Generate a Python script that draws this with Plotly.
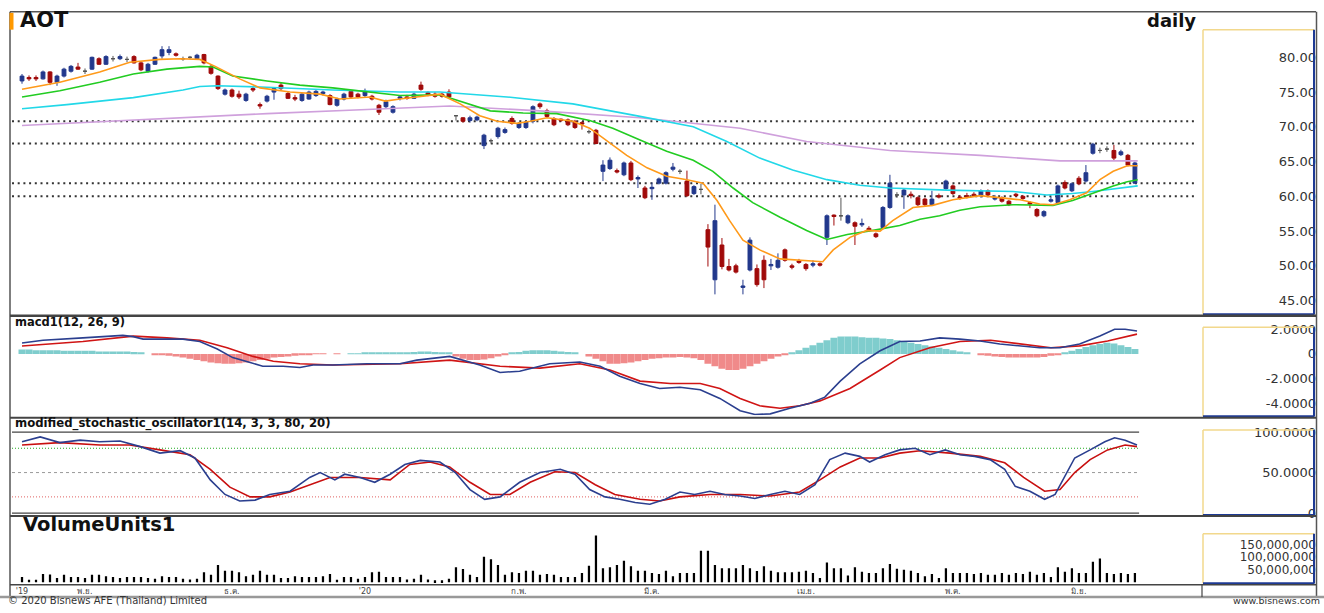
import plotly.graph_objects as go

# ------------------------------------------------------------------ data
month_idx = [0, 9, 30, 49, 71, 90, 112, 133, 151]
month_txt = ["'19", "พ.ย.", "ธ.ค.", "'20", "ก.พ.", "มี.ค.", "เม.ย.", "พ.ค.", "มิ.ย."]

# u = blue candle, d = red candle, n = grey doji
candle_kind = ("u d d u d u u u d n "
               "u d u n u n d d u u "
               "u u d n n u d d d u "
               "d d u d d u u d d d "
               "u u u u d u u d d u "
               "d d u u u d u d d d "
               "d d n d u u u n u u "
               "d u u u d d d d d d "
               "d n d u u d u d u d "
               "u u u u n d u n d u "
               "d d d u u d d u u d "
               "d d d u d u d n u d "
               "u d d u u n u d d d "
               "u d u d d d d u d u "
               "d d d d d d u u u d "
               "u d u u n n d u d u").split()

c_open = [76.6, 77.1, 77.1, 76.9, 77.9, 76.4, 77.3, 78.0, 78.6, 78.0,
          78.3, 79.8, 79.0, 79.8, 79.8, 79.7, 80.1, 79.2, 78.0, 79.0,
          80.2, 80.7, 80.5, 79.8, 80.0, 79.8, 80.4, 78.7, 77.3, 74.7,
          75.3, 74.7, 73.8, 75.5, 73.2, 73.7, 75.0, 76.0, 74.8, 74.2,
          73.8, 74.0, 74.5, 74.8, 74.5, 73.1, 74.0, 75.1, 74.7, 74.5,
          74.4, 73.1, 72.9, 72.1, 74.1, 74.3, 74.1, 76.0, 74.9, 74.7,
          74.7, 75.0, 71.6, 71.3, 70.9, 71.0, 67.3, 68.0, 68.6, 69.2,
          71.2, 69.9, 69.9, 70.8, 73.3, 72.3, 71.2, 71.1, 71.0, 70.8,
          70.6, 69.3, 69.5, 63.6, 64.0, 63.7, 63.1, 64.8, 62.5, 61.2,
          61.1, 61.9, 61.9, 63.9, 63.6, 62.2, 60.4, 61.0, 55.2, 48.0,
          53.0, 49.9, 50.0, 46.9, 49.4, 49.6, 50.8, 50.0, 49.8, 52.3,
          50.0, 50.7, 50.2, 50.1, 50.3, 54.1, 57.3, 57.2, 56.2, 56.2,
          55.9, 55.4, 54.6, 55.5, 58.4, 60.2, 60.2, 60.3, 59.8, 59.6,
          58.8, 60.1, 61.1, 61.5, 59.9, 60.1, 60.3, 60.1, 60.8, 59.6,
          59.8, 59.3, 60.3, 60.0, 59.1, 58.1, 57.2, 59.3, 59.1, 62.0,
          60.8, 62.6, 62.2, 66.2, 66.6, 66.8, 66.6, 66.0, 65.9, 61.9]
c_high = [77.6, 77.4, 77.4, 78.1, 78.0, 77.5, 78.5, 78.9, 79.2, 78.4,
          80.1, 80.0, 80.3, 80.2, 80.4, 80.1, 80.3, 79.4, 79.2, 80.1,
          81.6, 81.6, 80.7, 80.1, 80.2, 80.5, 80.5, 78.9, 77.4, 75.5,
          75.5, 75.2, 74.9, 75.8, 73.5, 74.6, 75.7, 76.4, 75.0, 74.6,
          74.9, 75.2, 75.3, 75.2, 74.7, 74.2, 74.9, 75.3, 74.9, 75.5,
          74.6, 73.3, 73.9, 73.1, 74.5, 74.6, 74.9, 76.5, 75.1, 75.0,
          74.9, 75.4, 71.7, 71.4, 71.6, 71.6, 69.0, 68.3, 70.0, 69.9,
          71.5, 70.7, 70.9, 73.1, 73.5, 72.6, 71.4, 71.2, 71.2, 71.0,
          70.8, 69.6, 69.7, 65.2, 65.6, 64.0, 65.0, 65.1, 63.0, 61.5,
          62.0, 62.7, 63.6, 64.8, 63.9, 63.7, 61.6, 61.8, 56.0, 58.8,
          54.0, 51.0, 50.3, 48.0, 54.1, 50.2, 51.5, 51.0, 51.8, 52.5,
          50.3, 51.0, 50.4, 50.8, 50.5, 57.4, 57.4, 59.8, 57.4, 56.4,
          56.8, 55.7, 54.8, 58.6, 63.1, 60.6, 61.1, 60.7, 60.0, 59.8,
          60.8, 60.4, 62.4, 61.7, 60.2, 60.5, 60.6, 61.0, 61.0, 60.2,
          60.0, 59.5, 60.5, 60.2, 59.3, 58.3, 58.0, 59.9, 61.7, 62.3,
          62.0, 62.9, 64.5, 67.7, 67.0, 67.2, 67.4, 66.7, 66.1, 65.0]
c_low = [76.2, 76.6, 76.6, 76.8, 76.0, 75.9, 77.1, 77.8, 78.2, 77.6,
         78.2, 78.9, 78.9, 79.4, 79.6, 79.3, 79.1, 78.0, 77.8, 78.9,
         79.8, 80.3, 80.1, 79.5, 79.7, 79.7, 79.0, 77.5, 75.3, 74.5,
         74.2, 74.0, 73.6, 75.0, 72.6, 73.5, 73.9, 75.3, 74.0, 73.7,
         73.6, 73.9, 74.3, 74.5, 73.1, 72.9, 73.8, 74.1, 74.1, 74.3,
         73.8, 71.7, 72.7, 71.9, 73.8, 73.9, 74.0, 75.2, 74.4, 74.2,
         74.2, 74.1, 70.9, 70.6, 70.6, 70.8, 66.8, 67.6, 68.3, 69.0,
         70.3, 69.7, 69.7, 70.5, 72.6, 71.3, 70.1, 70.7, 70.1, 69.7,
         69.6, 69.0, 67.5, 62.2, 63.8, 63.3, 62.9, 62.2, 61.2, 59.6,
         59.5, 61.7, 61.7, 63.6, 63.2, 59.9, 60.2, 60.3, 49.9, 45.9,
         49.5, 49.2, 48.9, 45.9, 49.2, 47.0, 46.8, 49.4, 49.6, 50.6,
         49.5, 50.3, 49.3, 49.8, 49.9, 53.0, 55.8, 56.5, 56.0, 53.0,
         55.6, 54.9, 54.0, 55.3, 58.2, 59.8, 58.2, 59.7, 58.6, 58.6,
         58.6, 59.7, 60.9, 60.2, 59.5, 59.7, 59.9, 59.8, 60.0, 59.4,
         59.1, 58.6, 59.9, 59.5, 58.3, 57.0, 57.0, 59.1, 58.9, 61.0,
         60.6, 61.6, 62.0, 66.0, 66.2, 66.4, 65.2, 65.8, 64.3, 61.8]
c_close = [77.3, 76.9, 76.9, 77.9, 76.4, 77.3, 78.3, 78.7, 78.3, 78.0,
           80.0, 79.0, 80.1, 79.8, 80.1, 79.7, 79.2, 78.2, 79.0, 80.0,
           81.1, 81.1, 80.3, 79.8, 80.0, 80.3, 79.2, 77.7, 75.5, 75.3,
           74.4, 74.3, 74.7, 75.3, 73.0, 74.4, 75.5, 75.5, 74.1, 74.0,
           74.7, 75.0, 75.1, 75.0, 73.2, 74.0, 74.7, 74.3, 74.3, 75.1,
           74.0, 72.1, 73.6, 72.9, 74.3, 74.1, 74.7, 75.4, 74.6, 74.4,
           74.4, 74.3, 71.6, 70.8, 71.3, 71.4, 68.8, 68.0, 69.8, 69.6,
           70.5, 70.5, 70.7, 72.9, 72.9, 71.5, 70.3, 70.9, 70.3, 69.9,
           70.4, 69.3, 67.6, 64.5, 65.2, 63.5, 64.8, 62.4, 62.7, 59.8,
           61.3, 62.5, 63.4, 64.2, 63.6, 60.1, 61.4, 61.0, 52.7, 56.5,
           49.9, 49.4, 49.1, 47.1, 53.7, 47.3, 48.0, 50.2, 50.8, 50.8,
           49.8, 50.5, 49.6, 50.3, 50.1, 57.2, 57.1, 57.2, 57.2, 55.7,
           56.1, 55.1, 54.2, 58.4, 61.9, 60.2, 60.9, 60.1, 58.8, 58.8,
           59.6, 59.9, 62.2, 60.4, 59.7, 59.9, 60.1, 60.8, 60.2, 59.8,
           59.3, 58.8, 60.1, 59.7, 58.9, 57.2, 57.8, 59.5, 61.5, 61.2,
           61.8, 61.8, 63.4, 67.5, 66.6, 66.8, 65.5, 66.4, 64.5, 64.8]

# moving averages (bar position, price)
ma_orange_x = [0, 5.4, 11.1, 15.4, 19.7, 22.6, 25.4, 27.6, 31.1, 34, 38.3, 42.6, 45.4, 49.7, 51.9,
               54, 59.7, 62.6, 65.4, 67.9, 70.7, 72.6, 75, 78.7, 81.1, 83.6, 86.4, 89.3, 92.1, 95,
               97.3, 99.3, 101.1, 103, 105.4, 108.3, 111.1, 114.4, 115.9, 118.3, 120.7, 122.6,
               124.4, 127.3, 130.1, 133, 136.9, 139.7, 142.6, 145.4, 147.3, 149.7, 152.1, 154,
               155.9, 157.9, 159.4]
ma_orange_y = [75.4, 76.4, 77.9, 79.3, 79.7, 79.8, 79.7, 78.7, 76.9, 75.6, 75.0, 74.7, 74.0, 74.3, 73.7,
               74.0, 74.7, 73.3, 71.6, 70.8, 70.5, 70.8, 71.3, 70.8, 69.8, 67.9, 65.9, 64.1, 62.9, 62.4,
               61.9, 59.4, 56.5, 53.7, 52.3, 51.0, 50.8, 50.6, 52.3, 54.1, 55.1, 55.0,
               56.5, 58.4, 58.7, 59.5, 60.1, 59.8, 59.5, 58.9, 58.8, 59.5, 60.5, 62.4,
               63.6, 64.4, 64.4]
ma_green_x = [0, 5.4, 11.1, 15.9, 20.7, 25.4, 27.3, 30.1, 35, 39.7, 44.4, 49.3, 54, 59.7, 63.6,
              66.9, 71.6, 76.4, 81.1, 84.4, 88.3, 92.1, 95.9, 98.7, 101.6, 104.4, 108.3, 112.1,
              115, 117.9, 121.6, 125.4, 128.3, 131.1, 134, 136.9, 141.6, 144.4, 147.3, 150.1,
              153, 155.9, 157.9, 159.4]
ma_green_y = [74.3, 75.2, 76.4, 77.6, 78.3, 78.7, 78.6, 77.3, 76.6, 76.0, 75.6, 75.0, 74.5, 74.6, 73.3,
              72.3, 72.0, 71.9, 70.9, 69.8, 68.1, 66.5, 65.2, 63.6, 61.2, 59.1, 57.0, 55.1,
              53.8, 54.5, 55.1, 55.8, 56.7, 57.2, 58.0, 58.5, 58.8, 58.8, 58.7, 59.4,
              60.5, 61.5, 62.1, 62.4]
ma_cyan_x = [0, 6.4, 15.9, 23, 25.4, 27.9, 35, 44.4, 54, 59.7, 69.3, 78.7, 88.3, 95.9, 100.7,
             105.4, 110.1, 115, 119.7, 124, 132.1, 141.6, 146.4, 150.1, 153, 156.9, 159.4]
ma_cyan_y = [72.6, 73.2, 74.2, 75.3, 75.8, 75.9, 75.7, 75.3, 75.0, 75.0, 74.3, 73.3, 71.5, 70.0, 67.9,
             65.5, 63.8, 62.4, 61.6, 61.2, 60.9, 60.7, 60.2, 60.4, 60.7, 61.2, 61.5]
ma_violet_x = [0, 15.9, 35, 49.3, 61.1, 74, 88.3, 102.6, 112.1, 124, 136.9, 148.3, 159.4]
ma_violet_y = [70.2, 71.0, 71.9, 72.5, 73.0, 72.3, 71.3, 69.8, 67.9, 66.6, 65.9, 65.1, 65.1]

price_levels = [70.8, 67.6, 61.9, 60.0]

# MACD (12, 26, 9)
macd_x = [0, 3, 8.7, 14.4, 15.9, 17.3, 23, 25.4, 27.9, 30.1, 32.6, 34.4, 37.3, 39.7, 41.6,
          44.4, 49.3, 54, 56.4, 61.1, 65.4, 68.3, 71.1, 75.4, 79.7, 82.6, 85.4, 88.3, 91.1, 94,
          96.9, 99.7, 102.6, 104.7, 106.9, 109.7, 112.6, 114.7, 116.9, 119.7, 122.6, 125.4,
          128.3, 131.1, 134, 136.9, 139.7, 142.6, 145.4, 148.3, 151.1, 154, 156.1, 157.6, 159.3]
macd_y = [0.88, 1.1, 1.3, 1.5, 1.4, 1.2, 1.2, 1.0, 0.4, -0.3, -0.7, -1.0, -1.0, -1.1, -0.9,
          -0.9, -0.8, -0.8, -0.5, -0.2, -0.9, -1.5, -1.4, -0.8, -0.65, -1.0, -1.8, -2.4, -2.8, -2.7,
          -2.9, -3.6, -4.6, -4.9, -4.85, -4.4, -4.0, -3.5, -2.2, -0.8, 0.25, 1.0,
          1.05, 1.3, 1.2, 1.05, 0.8, 0.65, 0.5, 0.5, 0.8, 1.45, 2.0, 2.0, 1.85]
signal_x = [0, 8.7, 15.9, 20.7, 25.4, 29.3, 33, 35.9, 39.7, 44.4, 54, 61.1, 68.3, 74, 79.7,
            84, 88.3, 92.6, 96.9, 99.7, 102.6, 105.4, 108.3, 111.1, 114, 118.3, 122.6, 125.4,
            129.7, 134, 138.4, 142.6, 147, 151.1, 155.1, 159.3]
signal_y = [0.64, 1.0, 1.44, 1.3, 1.1, 0.5, -0.2, -0.6, -0.8, -0.9, -0.8, -0.5, -1.0, -1.15, -0.8,
            -1.3, -2.2, -2.4, -2.4, -2.8, -3.6, -4.2, -4.4, -4.2, -3.8, -2.8, -1.3, -0.3,
            0.5, 1.0, 1.1, 0.8, 0.5, 0.65, 1.05, 1.6]
macd_hist = [0.35, 0.35, 0.3, 0.3, 0.3, 0.3, 0.25, 0.25, 0.25, 0.25, 0.25, 0.2, 0.2, 0.2, 0.2, 0.2, 0.15,
             0.05, 0.0, -0.05, -0.1,
             -0.15, -0.2, -0.3, -0.4, -0.5, -0.6, -0.7, -0.75, -0.8, -0.8, -0.75, -0.7, -0.6, -0.5,
             -0.4, -0.3, -0.25, -0.2, -0.15, -0.1, -0.05,
             -0.03, -0.03, 0.0, -0.03, 0.0, 0.02, 0.03, 0.05,
             0.08, 0.1, 0.12, 0.12, 0.12, 0.1, 0.15, 0.2, 0.2, 0.15, 0.1, 0.05,
             -0.2, -0.4, -0.5, -0.5, -0.45, -0.35, -0.2, -0.1,
             0.05, 0.15, 0.25, 0.3, 0.3, 0.3, 0.25, 0.2, 0.15, 0.1, 0.0,
             -0.2, -0.4, -0.6, -0.8, -0.8, -0.75, -0.7, -0.6,
             -0.5, -0.4, -0.35, -0.3, -0.3, -0.25, -0.3, -0.35, -0.5,
             -0.8, -1.0, -1.2, -1.3, -1.3, -1.2, -1.0, -0.8, -0.6, -0.4, -0.2, -0.05,
             0.1, 0.3, 0.5, 0.7, 0.9, 1.1, 1.3, 1.4, 1.4, 1.4, 1.35, 1.3, 1.3, 1.25, 1.2, 1.1,
             1.0, 0.9, 0.8, 0.7, 0.6, 0.5, 0.4, 0.3, 0.2,
             0.1, 0.0, -0.1, -0.15, -0.2, -0.25, -0.3, -0.3, -0.3, -0.3, -0.3, -0.25, -0.15, -0.05,
             0.1, 0.25, 0.4, 0.55, 0.7, 0.8, 0.9, 0.85, 0.7, 0.55, 0.4]

# modified stochastic oscillator (14, 3, 3, 80, 20)
stoch_k_x = [0, 2.6, 5.4, 8.3, 11.1, 14, 16.9, 19.7, 22.6, 24.7, 26.9, 29, 31.1, 33.3, 35.4,
             38.3, 41.1, 42.6, 44.7, 46.1, 48.3, 50.4, 52.6, 54.7, 56.9, 59.7, 61.9, 64, 66.1,
             68.3, 71.1, 74, 76.9, 79, 81.1, 83.3, 85.4, 87.6, 89.7, 91.9, 94, 96.1, 98.3,
             100.4, 102.6, 104.7, 106.9, 109, 111.1, 113.3, 115.4, 117.6, 119.7, 121.1, 123.3,
             125.4, 127.6, 129.7, 131.9, 134, 136.1, 138.3, 140.4, 141.9, 144, 146.1, 147.6,
             149, 150.4, 152.6, 154.7, 156.1, 157.6, 159.3]
stoch_k_y = [88, 94, 87, 90, 88, 89, 82, 74, 77, 68, 41, 23, 15, 16, 23,
             27, 44, 50, 41, 48, 44, 38, 48, 60, 65, 63, 50, 29, 17,
             20, 38, 50, 54, 48, 29, 20, 17, 13, 11, 17, 26, 23, 27,
             23, 21, 18, 23, 27, 23, 35, 66, 74, 70, 63, 72,
             78, 80, 72, 78, 72, 70, 66, 54, 33, 27, 17, 23,
             45, 68, 78, 88, 93, 90, 84]
stoch_d_x = [0, 5.4, 11.1, 15.4, 19.7, 24, 26.9, 29.7, 32.6, 35.4, 38.3, 41.1, 44, 48.3, 52.6,
             55.4, 58.3, 61.1, 64, 66.9, 69.7, 72.6, 76.1, 79, 81.9, 84.7, 88.3, 91.1, 94, 98.3,
             102.6, 106.9, 111.1, 114, 116.9, 119.7, 122.6, 125.4, 128.3, 132.6, 136.9, 140.4,
             143.1, 146.1, 148.3, 150.4, 152.6, 155.1, 157.6, 159.3]
stoch_d_y = [84, 87, 84, 84, 78, 72, 54, 32, 20, 20, 26, 35, 44, 44, 41,
             60, 63, 57, 38, 23, 23, 38, 51, 50, 35, 23, 17, 15, 20, 23,
             23, 21, 26, 41, 57, 68, 68, 74, 77, 74, 70, 62,
             44, 27, 29, 50, 66, 78, 84, 82]
stoch_levels = [100, 80, 50, 20, 0]

# volume, millions of shares
volume_m = [20.5, 10.3, 10.3, 33, 31, 17, 29.5, 20.5, 20.5, 17,
            29.5, 29.5, 24, 20.5, 17, 20.5, 20.5, 20.5, 17, 14,
            24, 20.5, 20.5, 14, 11.5, 14, 40, 29.5, 68, 46,
            46, 40, 24, 29.5, 46, 29.5, 29.5, 17, 17, 24,
            20.5, 20.5, 20.5, 24, 33, 10, 20.5, 20.5, 14, 20.5,
            40, 42, 20.5, 20.5, 20.5, 11.5, 14, 29.5, 11.5, 7.7,
            7.7, 14, 59, 52.6, 29.5, 20.5, 101, 91, 68, 29.5,
            40, 37, 46, 46, 29.5, 33, 29.5, 20.5, 20.5, 20.5,
            37, 65, 185, 55, 59, 68, 85, 63, 46, 46,
            37, 33, 46, 24, 37, 37, 37, 125, 125, 68,
            55, 55, 55, 68, 55, 45, 63, 46, 40, 40,
            40, 42, 46, 37, 17, 78, 55, 55, 27, 59,
            42, 37, 37, 55, 72, 53, 50, 46, 37, 24,
            33, 17, 55, 37, 37, 37, 33, 37, 29.5, 29.5,
            37, 29.5, 37, 33, 42, 29.5, 37, 20.5, 59, 42,
            55, 37, 37, 81, 94, 37, 33, 37, 33, 37]

# ------------------------------------------------------------------ styling / layout helpers
W, H = 1324, 613
def fx(p): return p / W
def fy(p): return 1 - p / H

BLUE_C, RED_C, GREY_C = "#22388C", "#A00A0A", "#555555"
FONT = "DejaVu Sans, Noto Sans, sans-serif"
X_RANGE = [-1.43, 168.3]
# panels: (top px, bottom px, value range)
P_PRICE = (12, 318, [43.02, 86.54])
P_MACD = (321, 420, [-4.96, 2.96])
P_STOCH = (424, 520, [-1.2, 115.9])
P_VOL = (523, 590, [-3.85e6, 257.7e6])

fig = go.Figure()

# candles
idx = list(range(len(c_open)))
for kind, col in (("u", BLUE_C), ("d", RED_C), ("n", GREY_C)):
    sel = [i for i in idx if candle_kind[i] == kind]
    style = dict(line=dict(color=col, width=1), fillcolor=col)
    fig.add_trace(go.Candlestick(
        x=sel, open=[c_open[i] for i in sel], high=[c_high[i] for i in sel],
        low=[c_low[i] for i in sel], close=[c_close[i] for i in sel],
        increasing=style, decreasing=style, whiskerwidth=0,
        xaxis="x", yaxis="y", hoverinfo="skip", showlegend=False))

for xs, ys, col in ((ma_violet_x, ma_violet_y, "#CFA0DC"),
                    (ma_cyan_x, ma_cyan_y, "#22D8E8"),
                    (ma_green_x, ma_green_y, "#22CC22"),
                    (ma_orange_x, ma_orange_y, "#FF9A1A")):
    fig.add_trace(go.Scatter(x=xs, y=ys, mode="lines", line=dict(color=col, width=1.6),
                             xaxis="x", yaxis="y", hoverinfo="skip", showlegend=False))

# MACD
fig.add_trace(go.Bar(x=idx, y=macd_hist, width=1.0,
                     marker=dict(color=["#7FCDCD" if v >= 0 else "#F08A8A" for v in macd_hist],
                                 line=dict(width=0)),
                     xaxis="x2", yaxis="y2", hoverinfo="skip", showlegend=False))
fig.add_trace(go.Scatter(x=signal_x, y=signal_y, mode="lines", line=dict(color="#D01515", width=1.6),
                         xaxis="x2", yaxis="y2", hoverinfo="skip", showlegend=False))
fig.add_trace(go.Scatter(x=macd_x, y=macd_y, mode="lines", line=dict(color="#2B3F8F", width=1.6),
                         xaxis="x2", yaxis="y2", hoverinfo="skip", showlegend=False))

# stochastic
fig.add_trace(go.Scatter(x=stoch_d_x, y=stoch_d_y, mode="lines", line=dict(color="#C81010", width=1.6),
                         xaxis="x3", yaxis="y3", hoverinfo="skip", showlegend=False))
fig.add_trace(go.Scatter(x=stoch_k_x, y=stoch_k_y, mode="lines", line=dict(color="#2B3F8F", width=1.6),
                         xaxis="x3", yaxis="y3", hoverinfo="skip", showlegend=False))

# volume
fig.add_trace(go.Bar(x=idx, y=[v * 1e6 for v in volume_m], width=0.32,
                     marker=dict(color="black", line=dict(width=0)),
                     xaxis="x4", yaxis="y4", hoverinfo="skip", showlegend=False))

# ------------------------------------------------------------------ axes
common_x = dict(domain=[fx(12), fx(1200)], range=X_RANGE, showgrid=False, zeroline=False,
                showticklabels=False, ticks="", showline=False, fixedrange=True)
layout = dict(
    width=W, height=H, margin=dict(l=0, r=0, t=0, b=0),
    paper_bgcolor="white", plot_bgcolor="white", showlegend=False, barmode="overlay",
    boxgap=0.22,
    font=dict(family=FONT, color="#333"),
    xaxis=dict(common_x, anchor="y", rangeslider=dict(visible=False)),
    xaxis2=dict(common_x, anchor="y2", matches="x"),
    xaxis3=dict(common_x, anchor="y3", matches="x"),
    xaxis4=dict(common_x, anchor="y4", matches="x", showticklabels=True,
                tickvals=month_idx, ticktext=month_txt, ticklabelstandoff=2,
                tickfont=dict(size=8, color="#444", family=FONT)),
)

def yax(panel, **kw):
    top, bot, rng = panel
    d = dict(domain=[fy(bot), fy(top)], range=rng, anchor="free", position=fx(1316), side="left",
             showgrid=False, zeroline=False, showline=False, ticks="", fixedrange=True,
             tickfont=dict(size=13, color="#333", family=FONT))
    d.update(kw)
    return d

layout["yaxis"] = yax(P_PRICE, tickvals=[45, 50, 55, 60, 65, 70, 75, 80], tickformat=".2f")
layout["yaxis2"] = yax(P_MACD, tickvals=[2, 0, -2, -4],
                       ticktext=["2.0000", "0", "-2.0000", "-4.0000"])
layout["yaxis3"] = yax(P_STOCH, tickvals=[100, 50, 0], ticktext=["100.0000", "50.0000", "0"])
layout["yaxis4"] = yax(P_VOL, tickvals=[50e6, 100e6, 150e6], tickformat=",d",
                       tickfont=dict(size=12, color="#333", family=FONT))

def tick_ax(base, panel, xpos, side, dtick, mdtick):
    return dict(overlaying=base, anchor="free", position=fx(xpos), side=side, range=panel[2],
                showgrid=False, zeroline=False, showline=False, showticklabels=False,
                ticks="outside", ticklen=4, tickwidth=1, tickcolor="#666", tick0=0, dtick=dtick,
                minor=dict(ticks="outside", ticklen=2, tickwidth=1, tickcolor="#999",
                           dtick=mdtick, showgrid=False),
                fixedrange=True)

n = 5
for base, panel, dt, mdt in (("y", P_PRICE, 5, 0.5), ("y2", P_MACD, 2, 0.5),
                             ("y3", P_STOCH, 50, 5), ("y4", P_VOL, 50e6, 10e6)):
    layout["yaxis%d" % n] = tick_ax(base, panel, 10.5, "right", dt, mdt); n += 1
    layout["yaxis%d" % n] = tick_ax(base, panel, 1202, "left", dt, mdt); n += 1

# ------------------------------------------------------------------ shapes
shapes = []
for lv in price_levels:
    shapes.append(dict(type="line", xref="x", yref="y", x0=X_RANGE[0], x1=167.6, y0=lv, y1=lv,
                       line=dict(color="#333", width=2, dash="2px,3.7px"), layer="below"))
stoch_style = {100: dict(color="#444", width=1.2), 0: dict(color="#444", width=1.2),
               80: dict(color="#22AA22", width=1, dash="1px,2px"),
               50: dict(color="#999", width=1, dash="3px,3px"),
               20: dict(color="#E06060", width=1, dash="1px,2px")}
for lv in stoch_levels:
    shapes.append(dict(type="line", xref="x3", yref="y3", x0=X_RANGE[0], x1=159.6, y0=lv, y1=lv,
                       line=stoch_style[lv], layer="below"))

def hl(y, x0, x1, color="#555", width=1.5):
    shapes.append(dict(type="line", xref="paper", yref="paper", x0=fx(x0), x1=fx(x1),
                       y0=fy(y), y1=fy(y), line=dict(color=color, width=width)))

def vl(x, y0, y1, color="#555", width=1.5):
    shapes.append(dict(type="line", xref="paper", yref="paper", x0=fx(x), x1=fx(x),
                       y0=fy(y0), y1=fy(y1), line=dict(color=color, width=width)))

# right-hand value boxes
for top, bot in ((30, 318), (331, 421), (435, 521), (540, 590)):
    hl(top, 1203, 1314, "#F2D88C", 1.5)
    vl(1203, top, bot, "#F2D88C", 1.5)
    hl(bot, 1203, 1314.5, "#1E3A94", 2)
    vl(1314, top, bot, "#1E3A94", 2)

# frame and panel separators
hl(12, 10, 1316, "#555", 1.5)
vl(10, 12, 604, "#555", 1.5)
vl(1316.5, 12, 604, "#555", 1.5)
hl(319.5, 10, 1316, "#444", 2.5)
hl(422.5, 10, 1316, "#444", 2)
hl(522, 10, 1316, "#444", 2)
hl(591.5, 10, 1316, "#444", 1.5)
hl(604, 0, 1324, "#999", 2.5)
vl(1202, 591.5, 604, "#444", 1.2)
shapes.append(dict(type="rect", xref="paper", yref="paper", x0=fx(9.5), x1=fx(13.5),
                   y0=fy(30), y1=fy(13), fillcolor="#FF9900", line=dict(width=0)))
layout["shapes"] = shapes

# ------------------------------------------------------------------ texts
def ann(text, x, y, size, bold=True, xanchor="left", yanchor="middle", color="#111"):
    return dict(text="<b>%s</b>" % text if bold else text, x=fx(x), y=fy(y), xref="paper",
                yref="paper", xanchor=xanchor, yanchor=yanchor, showarrow=False,
                borderpad=0, borderwidth=0,
                font=dict(size=size, color=color, family=FONT))

layout["annotations"] = [
    ann("AOT", 20, 20.5, 21),
    ann("daily", 1196, 20.5, 18, xanchor="right"),
    ann("macd1(12, 26, 9)", 15, 325.5, 11.5),
    ann("modified_stochastic_oscillator1(14, 3, 3, 80, 20)", 15, 428.5, 11.7),
    ann("VolumeUnits1", 23, 531, 19.5),
    ann("© 2020 Bisnews AFE (Thailand) Limited", 8, 613, 10, bold=False, yanchor="bottom",
        color="#333"),
    ann("www.bisnews.com", 1320, 613, 9.5, bold=False, xanchor="right", yanchor="bottom",
        color="#333"),
]

fig.update_layout(layout)
fig.write_html("out.html", config={"displayModeBar": False},
               post_script="document.body.style.margin='0';"
                           "document.documentElement.style.overflow='hidden';"
                           "document.body.style.overflow='hidden';")
